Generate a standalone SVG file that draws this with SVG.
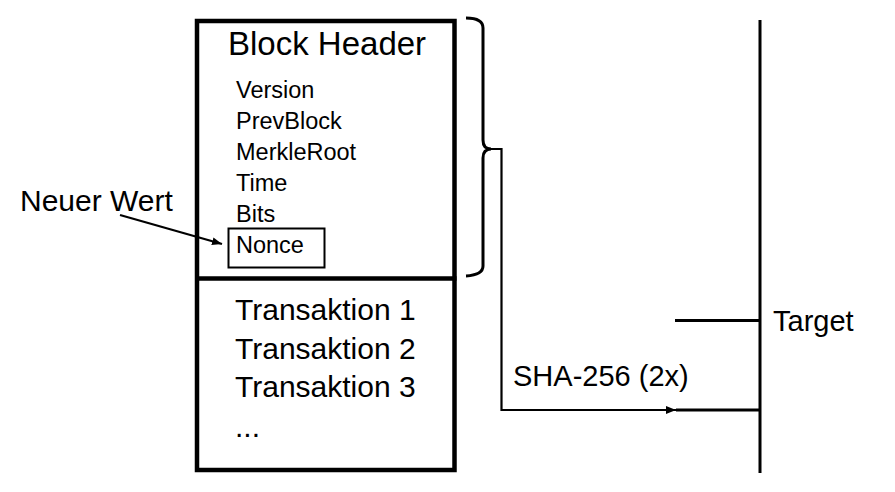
<svg xmlns="http://www.w3.org/2000/svg" width="895" height="492" viewBox="0 0 895 492">
<style>
text{font-family:"Liberation Sans",Arial,sans-serif;fill:#000}
.box{fill:none;stroke:#000;stroke-width:4.5}
.thin{fill:none;stroke:#000;stroke-width:2.2}
.mid{fill:none;stroke:#000;stroke-width:3}
.f23{font-size:23.5px}
.f30{font-size:30px}
</style>
<defs>
<marker id="ah" viewBox="0 0 10 8" refX="10" refY="4" markerWidth="10" markerHeight="8" markerUnits="userSpaceOnUse" orient="auto">
<path d="M0,0 L10,4 L0,8 Z" fill="#000"/>
</marker>
</defs>
<rect width="895" height="492" fill="#fff"/>
<g id="block">
<rect class="box" x="197" y="21" width="257.5" height="449"/>
<line class="box" x1="195" y1="278.5" x2="456.5" y2="278.5"/>
</g>
<g id="header">
<text x="228" y="55" font-size="33">Block Header</text>
<text class="f23" x="236" y="98">Version</text>
<text class="f23" x="236" y="129">PrevBlock</text>
<text class="f23" x="236" y="160">MerkleRoot</text>
<text class="f23" x="236" y="191">Time</text>
<text class="f23" x="236" y="222">Bits</text>
</g>
<g id="nonce">
<rect x="228.5" y="228.5" width="96" height="39" fill="none" stroke="#000" stroke-width="2"/>
<text class="f23" x="236" y="253">Nonce</text>
</g>
<g id="transactions">
<text class="f30" x="235" y="320">Transaktion 1</text>
<text class="f30" x="235" y="359">Transaktion 2</text>
<text class="f30" x="235" y="397">Transaktion 3</text>
<text class="f30" x="235" y="437">...</text>
</g>
<g id="neuer-wert">
<text x="20" y="211" font-size="30">Neuer Wert</text>
</g>
<g id="bracket">
<path class="mid" d="M466,18 Q483,18 483,28 L483,140 Q483,149 491,149 M483,158 Q483,149 491,149 M483,158 L483,266 Q483,275 466,276" stroke-linejoin="round"/>
</g>
<g id="target">
<line class="mid" x1="760" y1="20" x2="760" y2="473"/>
<line class="mid" x1="675" y1="320.5" x2="760" y2="320.5"/>
<text x="773" y="331" font-size="29">Target</text>
</g>
<g id="sha-label">
<text x="513" y="386" font-size="29">SHA-256 (2x)</text>
</g>
<g id="connectors">
<line class="thin" x1="120" y1="215" x2="222" y2="244" marker-end="url(#ah)"/>
<path class="thin" d="M490,149 L501.5,149 L501.5,410 L676,410" marker-end="url(#ah)"/>
<line class="mid" x1="676" y1="410" x2="760" y2="410"/>
</g>
</svg>
